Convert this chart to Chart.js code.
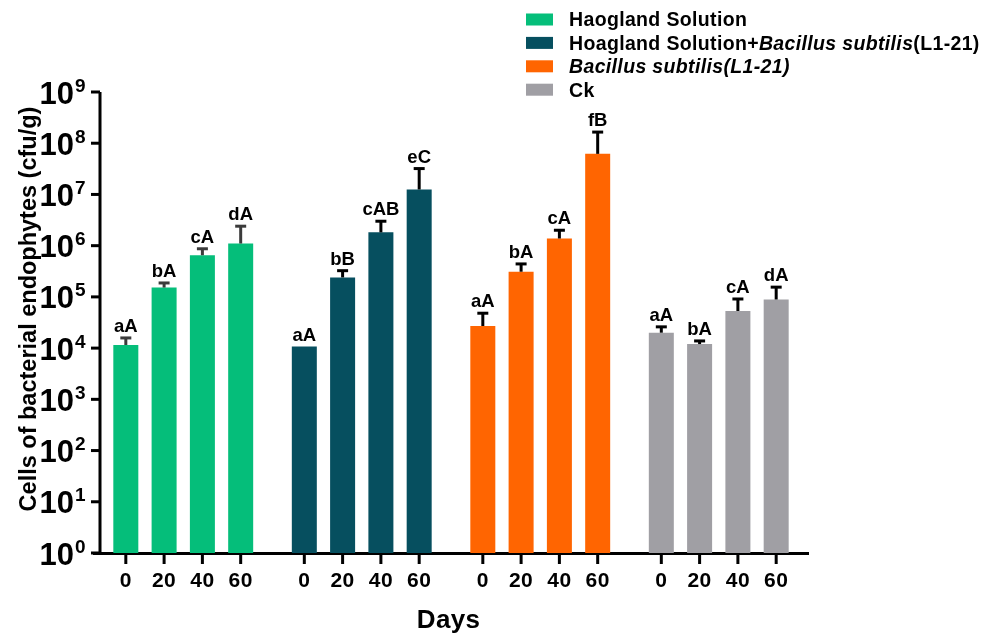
<!DOCTYPE html>
<html>
<head>
<meta charset="utf-8">
<script src="https://cdn.jsdelivr.net/npm/chart.js@4/dist/chart.umd.min.js"></script>
<style>
  html, body { margin: 0; padding: 0; background: #ffffff; }
  #c { display: block; }
</style>
</head>
<body>
<canvas id="c" width="995" height="634"></canvas>
<script>
// Treatments (one bar group each) and sampling days (one bar per day inside a group)
const treatments = ['Haogland Solution', 'Hoagland Solution+Bacillus subtilis(L1-21)', 'Bacillus subtilis(L1-21)', 'Ck'];
const days = ['0', '20', '40', '60'];

// Mean counts (cfu/g) per day, one array per treatment
const haogland      = [1.15e4, 1.52e5, 6.5e5, 1.1e6];
const hoaglandBs    = [1.07e4, 2.4e5, 1.82e6, 1.25e7];
const bacillus      = [2.7e4, 3.1e5, 1.38e6, 6.2e7];
const ck            = [2.0e4, 1.2e4, 5.3e4, 8.9e4];

// Standard deviations (upper error bars)
const haoglandSd    = [4.3e3, 3.5e4, 2.2e5, 1.3e6];
const hoaglandBsSd  = [0, 8.5e4, 1.18e6, 1.95e7];
const bacillusSd    = [2.1e4, 1.3e5, 6.2e5, 1.03e8];
const ckSd          = [6.0e3, 1.8e3, 3.8e4, 6.6e4];

// Significance letters
const haoglandLetters   = ['aA', 'bA', 'cA', 'dA'];
const hoaglandBsLetters = ['aA', 'bB', 'cAB', 'eC'];
const bacillusLetters   = ['aA', 'bA', 'cA', 'fB'];
const ckLetters         = ['aA', 'bA', 'cA', 'dA'];

// Y axis: powers of ten shown as 10^n
const yExponents = [0, 1, 2, 3, 4, 5, 6, 7, 8, 9];

const yTitle = 'Cells of bacterial endophytes (cfu/g)';
const xTitle = 'Days';

const means   = [haogland, hoaglandBs, bacillus, ck];
const sds     = [haoglandSd, hoaglandBsSd, bacillusSd, ckSd];
const letters = [haoglandLetters, hoaglandBsLetters, bacillusLetters, ckLetters];

const colors   = ['#05BE7A', '#064F5F', '#FF6501', '#A09FA4'];
const errColor = ['#3b3b3b', '#000000', '#000000', '#000000'];

// Legend rows, with the species name set in italics
const legendRuns = [
  [{ t: 'Haogland Solution' }],
  [{ t: 'Hoagland Solution+' }, { t: 'Bacillus subtilis', i: true }, { t: '(L1-21)' }],
  [{ t: 'Bacillus subtilis(L1-21)', i: true }],
  [{ t: 'Ck' }]
];

const FAMILY = '"Liberation Sans", Arial, sans-serif';
const AXIS_X = 100;   // vertical axis line position

function drawText(ctx, str, x, y, size, opts = {}) {
  ctx.save();
  ctx.font = `${opts.italic ? 'italic ' : ''}bold ${size}px ${FAMILY}`;
  ctx.fillStyle = opts.color || '#000';
  ctx.textAlign = opts.align || 'left';
  ctx.textBaseline = 'alphabetic';
  if ('letterSpacing' in ctx) ctx.letterSpacing = (opts.spacing || 0) + 'px';
  ctx.fillText(str, x, y);
  const w = ctx.measureText(str).width;
  ctx.restore();
  return w;
}

function line(ctx, x1, y1, x2, y2, color, width) {
  ctx.save();
  ctx.strokeStyle = color;
  ctx.lineWidth = width;
  ctx.beginPath();
  ctx.moveTo(x1, y1);
  ctx.lineTo(x2, y2);
  ctx.stroke();
  ctx.restore();
}

const decorations = {
  id: 'decorations',
  afterDatasetsDraw(chart) {
    const ctx = chart.ctx;
    const yScale = chart.scales.y;
    days.forEach((day, d) => {
      const meta = chart.getDatasetMeta(d);
      treatments.forEach((t, g) => {
        const bar = meta.data[g];
        const top = means[g][d] + sds[g][d];
        const yTop = yScale.getPixelForValue(top);
        if (sds[g][d] > 0) {
          line(ctx, bar.x, bar.y, bar.x, yTop, errColor[g], 3);
          line(ctx, bar.x - 5.5, yTop, bar.x + 5.5, yTop, errColor[g], 3);
        }
        drawText(ctx, letters[g][d], bar.x, yTop - 6, 18.5, { align: 'center' });
      });
    });
  },
  afterDraw(chart) {
    const ctx = chart.ctx;
    const yScale = chart.scales.y;
    const area = chart.chartArea;

    // vertical axis with major ticks and 10^n labels
    line(ctx, AXIS_X, area.top, AXIS_X, area.bottom + 1.5, '#000', 3);
    yExponents.forEach(e => {
      const py = yScale.getPixelForValue(Math.pow(10, e));
      line(ctx, AXIS_X - 9, py, AXIS_X, py, '#000', 3);
      drawText(ctx, '10', 74, py + 11.5, 31, { align: 'right' });
      drawText(ctx, String(e), 75, py - 0.5, 19, { align: 'left' });
    });

    // y axis title
    ctx.save();
    ctx.translate(27.5, 309);
    ctx.rotate(-Math.PI / 2);
    drawText(ctx, yTitle, 0, 8, 23.5, { align: 'center' });
    ctx.restore();

    // day ticks and labels under every bar
    days.forEach((day, d) => {
      const meta = chart.getDatasetMeta(d);
      meta.data.forEach(bar => {
        line(ctx, bar.x, area.bottom, bar.x, area.bottom + 11, '#000', 3);
        drawText(ctx, day, bar.x, 587, 21, { align: 'center', spacing: 0.5 });
      });
    });

    // x axis title
    drawText(ctx, xTitle, 448.5, 628, 26, { align: 'center', spacing: 0.3 });

    // legend
    legendRuns.forEach((runs, i) => {
      const cy = 19.5 + i * 23.4;
      ctx.fillStyle = colors[i];
      ctx.fillRect(526, cy - 6, 27, 12);
      let x = 569;
      runs.forEach(r => {
        x += drawText(ctx, r.t, x, cy + 6.8, 19.5, { italic: r.i, spacing: 0.35 });
      });
    });
  }
};

const datasets = days.map((day, d) => ({
  label: day,
  data: means.map(series => series[d]),
  backgroundColor: colors,
  borderWidth: 0,
  categoryPercentage: 0.858,
  barPercentage: 0.653
}));

new Chart(document.getElementById('c'), {
  type: 'bar',
  data: { labels: treatments, datasets },
  options: {
    responsive: false,
    maintainAspectRatio: false,
    animation: false,
    layout: { padding: { top: 92, right: 187, left: 0, bottom: 0 } },
    plugins: { legend: { display: false }, tooltip: { enabled: false } },
    scales: {
      x: {
        type: 'category',
        grid: { display: false },
        ticks: { display: false },
        border: { display: true, width: 3, color: '#000' },
        afterFit: s => { s.height = 81; }
      },
      y: {
        type: 'logarithmic',
        min: 1,
        max: 1e9,
        afterBuildTicks: s => { s.ticks = yExponents.map(e => ({ value: Math.pow(10, e) })); },
        grid: { display: false },
        ticks: { display: false },
        border: { display: false },
        afterFit: s => { s.width = 94; }
      }
    }
  },
  plugins: [decorations]
});
</script>
</body>
</html>
